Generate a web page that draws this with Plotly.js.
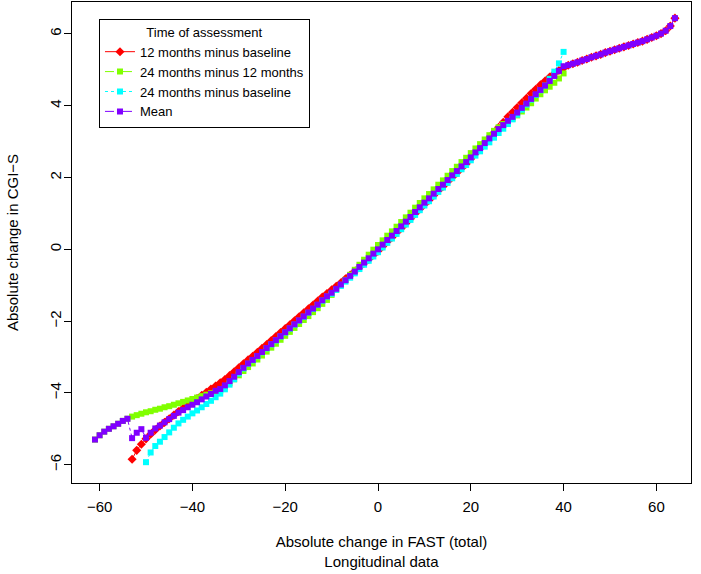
<!DOCTYPE html>
<html>
<head>
<meta charset="utf-8">
<script src="https://cdn.plot.ly/plotly-3.0.1.min.js"></script>
<style>html,body{margin:0;padding:0;background:#fff;}#chart{width:701px;height:574px;}</style>
</head>
<body>
<div id="chart"></div>
<script>
// Shared x grid: absolute change in FAST (total)
var fastChange = [-61,-60,-59,-58,-57,-56,-55,-54,-53,-52,-51,-50,-49,-48,-47,-46,-45,-44,-43,-42,-41,-40,-39,-38,-37,-36,-35,-34,-33,-32,-31,-30,-29,-28,-27,-26,-25,-24,-23,-22,-21,-20,-19,-18,-17,-16,-15,-14,-13,-12,-11,-10,-9,-8,-7,-6,-5,-4,-3,-2,-1,0,1,2,3,4,5,6,7,8,9,10,11,12,13,14,15,16,17,18,19,20,21,22,23,24,25,26,27,28,29,30,31,32,33,34,35,36,37,38,39,40,41,42,43,44,45,46,47,48,49,50,51,52,53,54,55,56,57,58,59,60,61,62,63,64];

// 12 months minus baseline (x = -53 .. 64)
var m12MinusBase = [null,null,null,null,null,null,null,null,
-5.85,-5.60,-5.43,-5.28,-5.15,-5.03,-4.92,-4.82,-4.72,-4.62,-4.52,-4.43,-4.34,-4.25,-4.16,-4.07,-3.98,-3.89,-3.81,
-3.72,-3.63,-3.52,-3.41,-3.30,-3.19,-3.08,-2.98,-2.87,-2.76,-2.65,-2.54,-2.43,-2.32,-2.21,-2.10,-1.99,-1.88,-1.77,-1.66,-1.55,-1.44,-1.33,-1.23,
-1.13,-1.03,-0.93,-0.82,-0.72,-0.61,-0.50,-0.39,-0.28,-0.16,-0.05,
0.08,0.21,0.33,0.46,0.59,0.72,0.85,0.99,1.12,1.25,1.37,1.50,1.63,1.75,1.88,2.01,2.13,2.26,2.38,2.52,
2.67,2.81,2.96,3.10,3.25,3.40,3.54,3.69,3.82,3.95,4.08,4.21,4.34,4.46,4.58,4.69,4.80,4.90,4.98,5.05,
5.13,5.17,5.21,5.26,5.30,5.35,5.39,5.43,5.48,5.52,5.56,5.60,5.64,5.68,5.72,5.76,5.80,5.85,5.90,5.95,6.01,6.09,6.22,6.44];

// 24 months minus 12 months (x = -61 .. 40)
var m24Minus12 = [-5.30,-5.18,-5.08,-5.00,-4.93,-4.86,-4.78,-4.72,-4.66,-4.62,-4.58,-4.54,-4.51,-4.47,-4.44,-4.40,-4.37,-4.33,-4.29,-4.25,-4.21,-4.17,-4.13,-4.09,-4.05,-4.01,-3.97,
-3.93,-3.84,-3.73,-3.62,-3.51,-3.39,-3.28,-3.18,-3.07,-2.96,-2.85,-2.74,-2.63,-2.52,-2.41,-2.30,-2.19,-2.08,-1.97,-1.86,-1.75,-1.64,-1.52,-1.41,
-1.27,-1.13,-0.99,-0.85,-0.71,-0.57,-0.43,-0.29,-0.15,-0.01,0.12,
0.25,0.38,0.50,0.63,0.76,0.89,1.02,1.16,1.29,1.42,1.54,1.67,1.80,1.92,2.05,2.18,2.30,2.43,2.55,2.68,2.81,2.93,3.06,3.18,3.30,
3.40,3.49,3.57,3.64,3.73,3.84,3.95,4.07,4.20,4.32,4.43,4.53,4.64,4.76,4.90,
null,null,null,null,null,null,null,null,null,null,null,null,null,null,null,null,null,null,null,null,null,null,null,null];

// 24 months minus baseline (x = -50 .. 40)
var m24MinusBase = [null,null,null,null,null,null,null,null,null,null,null,
-5.93,-5.66,-5.48,-5.36,-5.23,-5.10,-4.97,-4.85,-4.75,-4.66,-4.57,-4.49,-4.40,-4.31,-4.22,-4.12,-4.02,-3.90,-3.77,-3.62,-3.46,-3.32,-3.19,
-3.09,-2.98,-2.87,-2.76,-2.65,-2.54,-2.43,-2.32,-2.21,-2.10,-1.99,-1.88,-1.77,-1.66,-1.55,-1.43,-1.32,
-1.24,-1.13,-1.02,-0.90,-0.79,-0.67,-0.55,-0.43,-0.32,-0.20,-0.08,0.05,0.18,0.30,0.43,0.56,0.69,0.82,0.96,1.09,1.22,1.34,1.47,1.60,1.72,1.85,1.98,2.10,2.23,2.35,2.48,2.61,2.73,2.86,2.98,3.11,3.24,3.36,3.49,3.62,3.75,
3.89,4.03,4.17,4.30,4.43,4.56,4.75,4.95,5.18,5.50,
null,null,null,null,null,null,null,null,null,null,null,null,null,null,null,null,null,null,null,null,null,null,null,null];

// Mean (x = -61 .. 64)
var meanChange = [-5.30,-5.18,-5.08,-5.00,-4.93,-4.86,-4.78,-4.72,
-5.26,-5.11,-5.01,-5.25,-5.11,-4.99,-4.91,-4.82,-4.73,-4.64,-4.55,-4.48,-4.40,-4.33,-4.26,-4.18,-4.10,-4.03,-3.94,
-3.89,-3.79,-3.67,-3.55,-3.42,-3.30,-3.18,
-3.08,-2.97,-2.86,-2.75,-2.64,-2.53,-2.42,-2.31,-2.20,-2.09,-1.98,-1.87,-1.76,-1.65,-1.54,-1.42,-1.31,-1.21,-1.10,-0.98,-0.86,-0.74,-0.62,-0.49,-0.37,-0.25,-0.12,
0.00,0.13,0.26,0.38,0.51,0.64,0.77,0.90,1.04,1.17,1.30,1.42,1.55,1.68,1.80,1.93,2.06,2.18,2.31,2.43,2.56,
2.70,2.82,2.96,3.09,3.22,3.35,3.46,3.58,3.69,3.81,3.94,4.06,4.19,4.32,4.44,4.56,4.69,4.83,4.97,5.10,
5.13,5.17,5.21,5.26,5.30,5.35,5.39,5.43,5.48,5.52,5.56,5.60,5.64,5.68,5.72,5.76,5.80,5.85,5.90,5.95,6.01,6.09,6.22,6.44];

var seriesNames = ["12 months minus baseline","24 months minus 12 months","24 months minus baseline","Mean"];
var xTicks = [-60,-40,-20,0,20,40,60];
var yTicks = [-6,-4,-2,0,2,4,6];

var FONT = "Liberation Sans, Arial, Helvetica, sans-serif";

function mk(y, name, color, dash, symbol, size) {
  return {
    x: fastChange, y: y, name: name, type: "scatter", mode: "lines+markers",
    line: {color: color, width: 1, dash: dash},
    marker: {color: color, symbol: symbol, size: size, line: {width: 0}},
    connectgaps: false, hoverinfo: "x+y"
  };
}

function fmt(v) { return v < 0 ? "\u2212" + Math.abs(v) : String(v); }

var traces = [
  mk(m12MinusBase, seriesNames[0], "#FF0000", "solid", "diamond", 7),
  mk(m24Minus12, seriesNames[1], "#80FF00", "dash", "square", 6),
  mk(m24MinusBase, seriesNames[2], "#00FFFF", "dot", "square", 6),
  mk(meanChange, seriesNames[3], "#8000FF", "dashdot", "square", 6)
];

var layout = {
  width: 701, height: 574,
  margin: {l: 72, r: 10, t: 2, b: 91},
  paper_bgcolor: "#fff", plot_bgcolor: "#fff",
  font: {family: FONT, size: 15, color: "#000"},
  showlegend: true,
  legend: {
    x: 0.0436, y: 0.965, xanchor: "left", yanchor: "top",
    bordercolor: "#000", borderwidth: 1, bgcolor: "#fff",
    font: {family: FONT, size: 13, color: "#000"},
    title: {text: "Time of assessment", side: "top center", font: {family: FONT, size: 13}},
    itemwidth: 30
  },
  xaxis: {
    range: [-65.95, 67.46], tickvals: xTicks, ticktext: xTicks.map(fmt),
    ticks: "outside", ticklen: 7, tickcolor: "#000", tickwidth: 1,
    showline: true, linecolor: "#000", linewidth: 1, mirror: true,
    showgrid: false, zeroline: false, ticklabelstandoff: 3,
    tickfont: {family: FONT, size: 15},
    title: {text: "Absolute change in FAST (total)<br>Longitudinal data", font: {family: FONT, size: 15}, standoff: 22}
  },
  yaxis: {
    range: [-6.51, 6.89], tickvals: yTicks, ticktext: yTicks.map(fmt),
    ticks: "outside", ticklen: 7, tickcolor: "#000", tickwidth: 1, tickangle: -90,
    showline: true, linecolor: "#000", linewidth: 1, mirror: true,
    showgrid: false, zeroline: false, ticklabelstandoff: -3,
    tickfont: {family: FONT, size: 15},
    title: {text: "Absolute change in CGI\u2212S", font: {family: FONT, size: 15}, standoff: 24}
  }
};

Plotly.newPlot("chart", traces, layout, {displayModeBar: false, staticPlot: true});
</script>
</body>
</html>
